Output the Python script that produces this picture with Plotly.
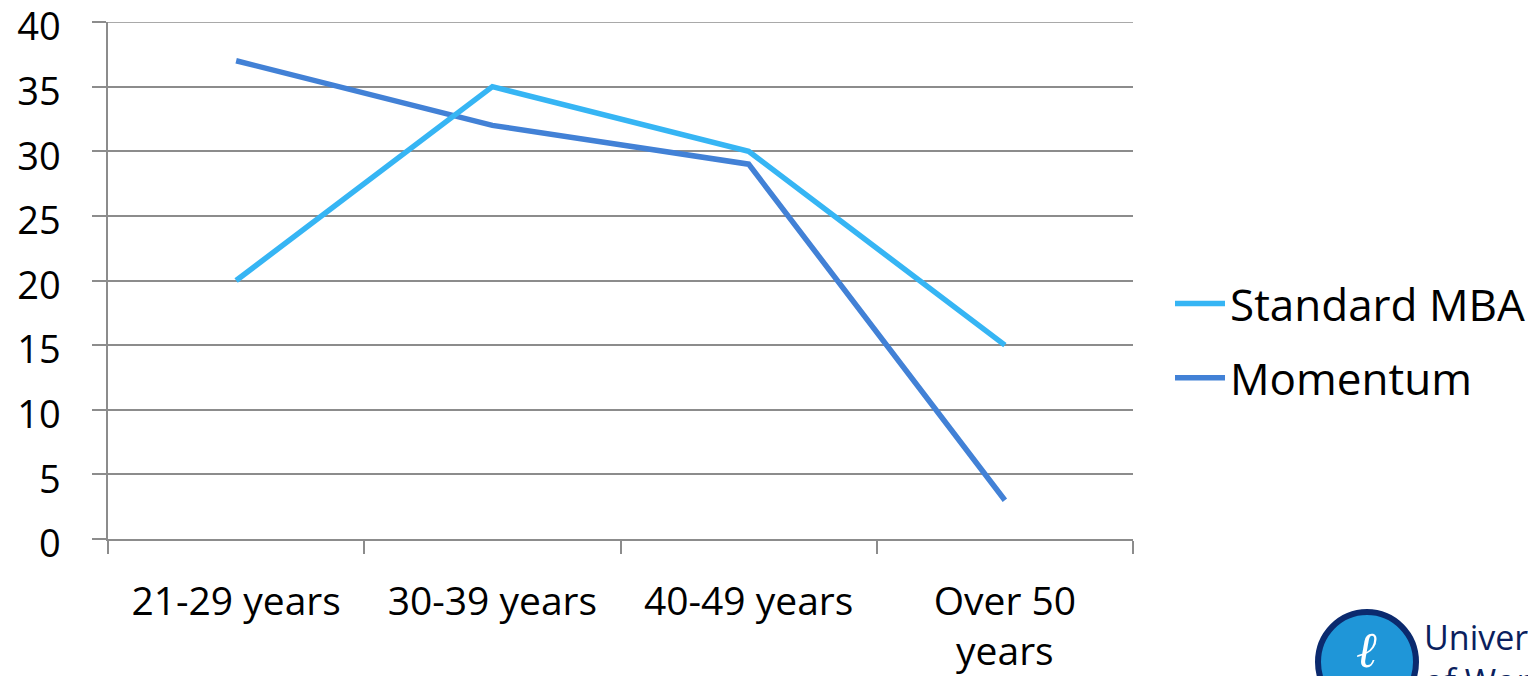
import plotly.graph_objects as go

categories = ["21-29 years", "30-39 years", "40-49 years", "Over 50 years"]
tick_labels = ["21-29 years", "30-39 years", "40-49 years", "Over 50<br>years"]
standard_mba = [20, 35, 30, 15]
momentum = [37, 32, 29, 3]
y_ticks = [0, 5, 10, 15, 20, 25, 30, 35, 40]

FONT = "Open Sans"
GRID = "#8c8c8c"

# browser body has an 8px default margin; work in page pixels and shift
OFF = 8
W, H = 1536 - 2 * OFF, 684 - 2 * OFF
L, R, T, B = 108 - OFF, 1133 - OFF, 22 - OFF, 539 - OFF

fig = go.Figure()
# Momentum drawn first so Standard MBA sits on top (as in the reference)
fig.add_trace(go.Scatter(x=categories, y=momentum, mode="lines", name="Momentum",
                         line=dict(color="#4281d6", width=5.5), legendgroup="b", legendrank=2))
fig.add_trace(go.Scatter(x=categories, y=standard_mba, mode="lines", name="Standard MBA",
                         line=dict(color="#36b5f4", width=5.5), legendgroup="a", legendrank=1))


def px(x):
    return (x - OFF - L) / (R - L)


def py(y):
    return (B - (y - OFF)) / (B - T)


fig.update_layout(
    width=W, height=H, autosize=False,
    margin=dict(l=L, r=W - R, t=T, b=H - B, pad=0, autoexpand=False),
    paper_bgcolor="white", plot_bgcolor="white",
    font=dict(family=FONT, size=40, color="black"),
    showlegend=True,
    legend=dict(x=px(1170), y=py(341), xanchor="left", yanchor="middle",
                font=dict(size=44), tracegroupgap=14, itemwidth=50,
                bgcolor="rgba(0,0,0,0)"),
    xaxis=dict(type="category", categoryorder="array", categoryarray=categories,
               tickvals=categories, ticktext=tick_labels, automargin=False,
               range=[-0.5, 3.5], tickson="boundaries", ticks="outside", ticklen=13,
               tickwidth=1.5, tickcolor=GRID, showline=True, linecolor=GRID, linewidth=1.5,
               showgrid=False, zeroline=False, ticklabelstandoff=27,
               ticklabeloverflow="allow", tickfont=dict(size=39)),
    yaxis=dict(range=[0, 40], tickmode="array", tickvals=y_ticks, ticks="outside",
               ticklen=14, tickwidth=1.5, tickcolor=GRID, showline=True, linecolor=GRID,
               linewidth=1.5, showgrid=True, gridcolor=GRID, gridwidth=1.5, zeroline=False,
               automargin=False, ticklabelstandoff=24, ticklabeloverflow="allow",
               ticklabelshift=5, tickfont=dict(size=38)),
)

# top gridline (at the edge of the plot area)
fig.add_shape(type="line", xref="paper", yref="y", x0=0, x1=1, y0=y_ticks[-1], y1=y_ticks[-1],
              line=dict(color=GRID, width=1.5), layer="below")

# University logo (decoration, bottom right)
fig.add_shape(type="circle", xref="paper", yref="paper",
              x0=px(1318), x1=px(1416), y0=py(712), y1=py(612),
              fillcolor="#1f96d8", line=dict(color="#0b2a6e", width=6))
fig.add_annotation(xref="paper", yref="paper", x=px(1366), y=py(650), text="<i>ℓ</i>",
                   showarrow=False, font=dict(family="DejaVu Serif", size=50, color="white"),
                   xanchor="center", yanchor="middle")
fig.add_annotation(xref="paper", yref="paper", x=px(1422), y=py(612),
                   text="University<br>of Worcester", showarrow=False, align="left",
                   xanchor="left", yanchor="top",
                   font=dict(family=FONT, size=34, color="#0b1f5e"))

fig.write_html("out.html")
